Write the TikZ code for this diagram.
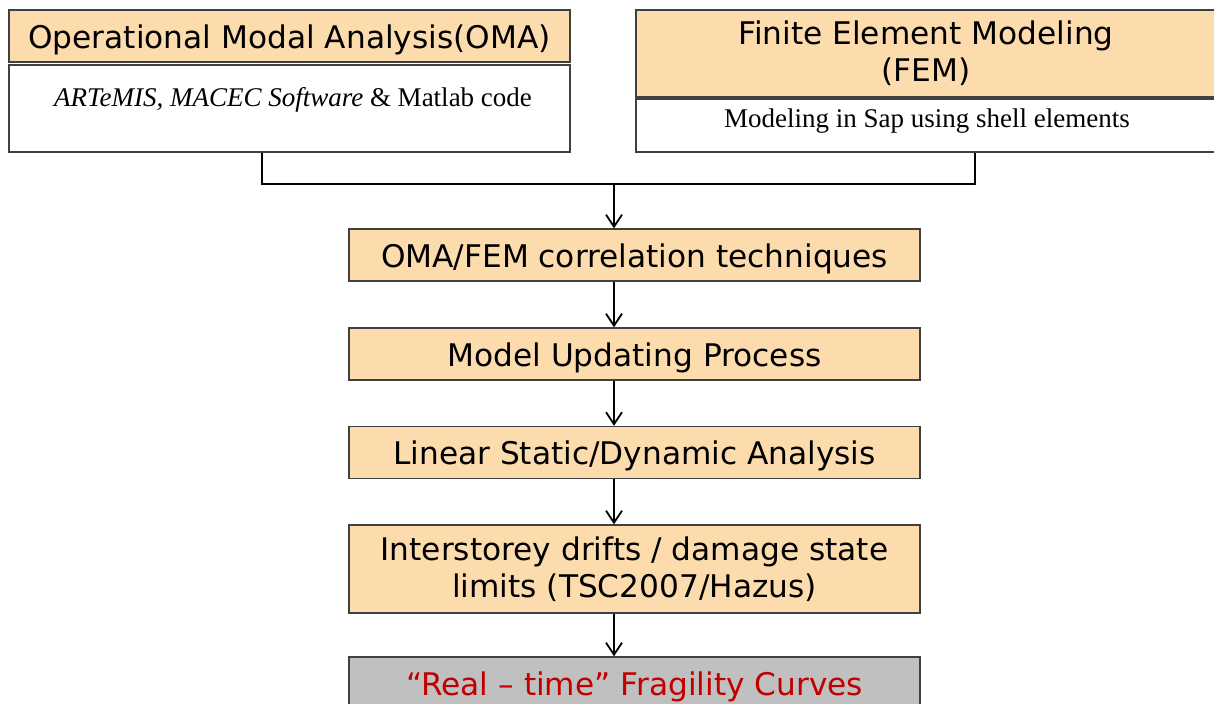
\documentclass[tikz,border=0pt]{standalone}
\usepackage{fontspec}
\setmainfont{Liberation Serif}
\newfontfamily\hdrfont{DejaVu Sans}
\usepackage{tikz}
\usetikzlibrary{positioning,arrows.meta,calc}
\definecolor{peach}{RGB}{252,219,172}
\definecolor{greybox}{RGB}{192,192,192}
\definecolor{darkred}{RGB}{192,0,0}
\tikzset{
  hdr/.style={draw=black!75,fill=peach,line width=0.7pt,inner sep=0pt,align=center,
    font=\hdrfont\fontsize{15.6}{18.5}\selectfont,
    execute at begin node={\rule{0pt}{15.5pt}}},
  subbox/.style={draw=black!75,fill=white,line width=0.7pt,inner sep=0pt},
  subtxt/.style={inner sep=0pt,font=\fontsize{13.5}{16}\selectfont},
  stepbox/.style={hdr,minimum width=285.5pt,minimum height=26pt},
  link/.style={line width=1pt},
  flow/.style={-{Straight Barb[length=6pt,width=8pt]},line width=0.9pt},
}

\begin{document}
\begin{tikzpicture}[x=0.5pt,y=-0.5pt]
  \useasboundingbox (0,0) rectangle (1214,704);
  % ---- two sources ----
  \node[hdr,minimum width=280.5pt,minimum height=26pt] (omaHdr) at (289.5,36)
    {Operational Modal Analysis(OMA)};
  \node[subbox,minimum width=280.5pt,minimum height=43.5pt] (omaSub) at (289.5,108.5) {};
  \node[subtxt] (omaTxt) at (293,100) {\textit{ARTeMIS, MACEC Software} \& Matlab code};
  \node[hdr,minimum width=290pt,minimum height=43.5pt] (femHdr) at (926,53.5)
    {Finite Element Modeling\\(FEM)};
  \node[subbox,minimum width=290pt,minimum height=26.5pt] (femSub) at (926,125.5) {};
  \node[subtxt] (femTxt) at (927,121) {Modeling in Sap using shell elements};
  % ---- chain of steps ----
  \node[stepbox] (corr) at (634.5,255) {OMA/FEM correlation techniques};
  \node[stepbox] (upd) at (634.5,354) {Model Updating Process};
  \node[stepbox] (lin) at (634.5,452.5) {Linear Static/Dynamic Analysis};
  \node[stepbox,minimum height=44pt] (drift) at (634.5,569)
    {Interstorey drifts / damage state\\limits (TSC2007/Hazus)};
  \node[stepbox,fill=greybox,text=darkred] (frag) at (634.5,683)
    {“Real – time” Fragility Curves};
  % ---- connectors ----
  \coordinate (joinL) at (262,184);
  \coordinate (joinR) at (975,184);
  \coordinate (join) at (614,184);
  \draw[link] (omaSub.south -| joinL) -- (joinL) -- (joinR) -- (femSub.south -| joinR);
  \draw[flow] (join) -- (join |- corr.north);
  \draw[flow] (corr.south -| join) -- (join |- upd.north);
  \draw[flow] (upd.south -| join) -- (join |- lin.north);
  \draw[flow] (lin.south -| join) -- (join |- drift.north);
  \draw[flow] (drift.south -| join) -- (join |- frag.north);
\end{tikzpicture}
\end{document}
